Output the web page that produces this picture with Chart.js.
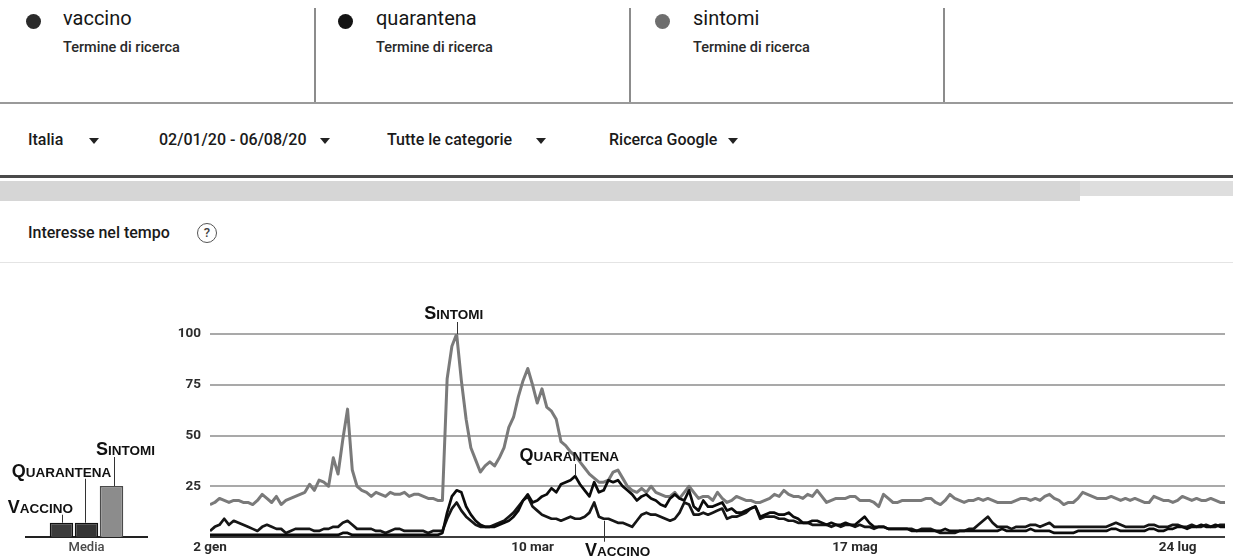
<!DOCTYPE html>
<html lang="it">
<head>
<meta charset="utf-8">
<title>Interesse nel tempo</title>
<script src="https://cdn.jsdelivr.net/npm/chart.js@4.4.1/dist/chart.umd.min.js"></script>
<style>
    html, body { margin: 0; padding: 0; background: #fff; }
    body { width: 1233px; height: 558px; overflow: hidden; position: relative; font-family: Roboto, 'Liberation Sans', sans-serif; color: #222; }
    .dot { position: absolute; top: 14px; width: 15px; height: 15px; border-radius: 50%; }
    .term { position: absolute; top: 6px; font-size: 20px; line-height: 24px; color: #161616; }
    .sub { position: absolute; top: 40px; font-size: 14.5px; line-height: 16px; font-weight: 500; color: #2a2a2a; }
    .vsep { position: absolute; top: 8px; width: 2px; height: 95px; background: #8c8c8c; }
    .filter { position: absolute; top: 130px; font-size: 16px; line-height: 20px; font-weight: 500; color: #1a1a1a; }
    .caret { position: absolute; top: 138px; width: 0; height: 0; border-left: 5px solid transparent; border-right: 5px solid transparent; border-top: 6px solid #222; }
    .title { position: absolute; left: 28px; top: 223px; font-size: 16px; line-height: 20px; font-weight: 500; color: #1a1a1a; }
    .help { position: absolute; left: 197px; top: 223px; width: 18px; height: 18px; border: 1.5px solid #555; border-radius: 50%; font-size: 13px; line-height: 18px; text-align: center; color: #444; font-weight: 500; }
    canvas { position: absolute; }
</style>
</head>
<body>
    <div class="dot" style="left:26px;background:#2b2b2b"></div>
    <div class="term" style="left:63px">vaccino</div>
    <div class="sub" style="left:63px">Termine di ricerca</div>
    <div class="vsep" style="left:314px"></div>
    <div class="dot" style="left:338px;background:#141414"></div>
    <div class="term" style="left:376px">quarantena</div>
    <div class="sub" style="left:376px">Termine di ricerca</div>
    <div class="vsep" style="left:629px"></div>
    <div class="dot" style="left:655px;background:#6e6e6e"></div>
    <div class="term" style="left:693px">sintomi</div>
    <div class="sub" style="left:693px">Termine di ricerca</div>
    <div class="vsep" style="left:943px"></div>
    <div style="position:absolute;left:0;top:102px;width:1233px;height:2px;background:#9a9a9a"></div>

    <div class="filter" style="left:28px">Italia</div>
    <div class="caret" style="left:89px"></div>
    <div class="filter" style="left:159px">02/01/20 - 06/08/20</div>
    <div class="caret" style="left:320px"></div>
    <div class="filter" style="left:387px">Tutte le categorie</div>
    <div class="caret" style="left:536px"></div>
    <div class="filter" style="left:609px">Ricerca Google</div>
    <div class="caret" style="left:728px"></div>

    <div style="position:absolute;left:0;top:175px;width:1233px;height:3px;background:#4a4a4a"></div>
    <div style="position:absolute;left:0;top:181px;width:1080px;height:20px;background:#d6d6d6"></div>
    <div style="position:absolute;left:1080px;top:181px;width:153px;height:15px;background:#dedede"></div>

    <div class="title">Interesse nel tempo</div>
    <div class="help">?</div>
    <div style="position:absolute;left:0;top:262px;width:1233px;height:1px;background:#e4e4e4"></div>

    <canvas id="media" width="160" height="123" style="left:0;top:435px"></canvas>
    <canvas id="trend" width="1073" height="268" style="left:160px;top:290px"></canvas>

<script>
const seriesNames = ['vaccino', 'quarantena', 'sintomi']
const tickDays = [0, 68, 136, 204]
const tickLabels = ['2 gen', '10 mar', '17 mag', '24 lug']
const mediaLabels = ['Media']
const mediaValues = [7, 7, 25]

// one value per day from 2 gen
const vaccino = [
    3, 5, 6, 9, 6, 8, 7, 6, 5, 4,
    3, 5, 6, 5, 4, 4, 2, 3, 4, 4,
    4, 4, 3, 3, 4, 4, 5, 5, 7, 8,
    6, 4, 4, 4, 4, 3, 3, 2, 3, 4,
    4, 3, 3, 3, 3, 3, 2, 3, 3, 3,
    9, 14, 17, 13, 10, 8, 6, 5, 5, 5,
    6, 7, 8, 10, 12, 15, 18, 20, 15, 13,
    11, 10, 9, 9, 8, 9, 10, 9, 9, 10,
    12, 17, 10, 9, 9, 8, 7, 7, 6, 5,
    8, 11, 12, 11, 11, 10, 9, 8, 9, 12,
    17, 16, 11, 11, 12, 11, 12, 13, 14, 9,
    10, 10, 11, 12, 14, 15, 9, 10, 10, 10,
    9, 9, 8, 8, 7, 7, 7, 6, 6, 6,
    6, 5, 6, 5, 6, 6, 5, 6, 5, 5,
    4, 5, 5, 4, 4, 4, 4, 4, 4, 3,
    4, 4, 4, 3, 2, 2, 2, 2, 3, 3,
    4, 4, 6, 8, 10, 7, 5, 5, 5, 4,
    5, 5, 5, 6, 6, 5, 6, 7, 5, 5,
    5, 5, 5, 5, 5, 5, 5, 5, 5, 5,
    6, 7, 6, 5, 5, 5, 5, 5, 6, 6,
    5, 5, 5, 6, 6, 5, 5, 6, 5, 5,
    6, 5, 5, 6, 6
]

const quarantena = [
    1, 1, 1, 1, 1, 1, 1, 1, 1, 1,
    1, 1, 1, 1, 1, 1, 1, 1, 1, 1,
    1, 1, 1, 1, 1, 1, 1, 1, 2, 2,
    1, 1, 1, 1, 1, 1, 1, 1, 1, 1,
    1, 1, 1, 1, 1, 1, 1, 1, 1, 2,
    12, 20, 23, 22, 15, 11, 8, 6, 5, 5,
    5, 6, 7, 8, 10, 13, 18, 21, 17, 18,
    20, 21, 24, 22, 26, 27, 28, 30, 26, 23,
    20, 27, 22, 23, 28, 27, 28, 25, 23, 21,
    18, 20, 21, 19, 18, 16, 15, 19, 21, 19,
    18, 23, 15, 13, 18, 15, 15, 16, 17, 13,
    14, 12, 12, 13, 14, 15, 10, 11, 12, 12,
    11, 11, 12, 10, 9, 7, 7, 8, 8, 7,
    6, 7, 6, 6, 7, 6, 6, 8, 10, 7,
    5, 5, 5, 4, 4, 4, 4, 4, 3, 3,
    3, 3, 3, 3, 3, 4, 3, 3, 3, 3,
    3, 3, 3, 3, 3, 3, 3, 4, 3, 3,
    3, 3, 3, 4, 3, 3, 3, 3, 2, 2,
    2, 2, 2, 3, 3, 3, 3, 3, 3, 3,
    4, 4, 3, 3, 3, 3, 3, 3, 4, 4,
    3, 3, 4, 4, 5, 5, 4, 5, 5, 6,
    5, 5, 6, 5, 5
]

const sintomi = [
    16, 17, 19, 18, 17, 18, 18, 17, 17, 16,
    18, 21, 19, 17, 20, 16, 18, 19, 20, 21,
    22, 26, 23, 28, 27, 25, 39, 31, 48, 63,
    33, 25, 23, 22, 20, 22, 21, 20, 22, 21,
    21, 22, 20, 21, 21, 20, 19, 19, 18, 18,
    78, 94, 100, 77, 58, 44, 38, 32, 35, 37,
    35, 39, 44, 54, 59, 69, 77, 83, 75, 66,
    73, 64, 62, 58, 47, 45, 42, 40, 37, 34,
    31, 29, 27, 27, 28, 32, 33, 29, 25, 23,
    22, 24, 22, 25, 22, 21, 20, 20, 22, 19,
    22, 25, 22, 19, 20, 20, 18, 22, 19, 17,
    18, 20, 19, 18, 18, 17, 17, 18, 19, 21,
    20, 23, 21, 20, 20, 19, 21, 20, 23, 20,
    17, 18, 19, 19, 19, 20, 20, 18, 18, 18,
    17, 15, 21, 19, 17, 17, 18, 18, 18, 18,
    18, 19, 19, 17, 16, 18, 21, 19, 18, 17,
    18, 18, 19, 18, 19, 18, 17, 17, 17, 17,
    18, 19, 19, 18, 19, 18, 20, 21, 19, 18,
    16, 17, 17, 19, 22, 21, 20, 19, 19, 19,
    20, 19, 18, 19, 18, 19, 18, 17, 17, 20,
    19, 18, 18, 17, 18, 20, 19, 18, 19, 18,
    18, 19, 18, 17, 17
]

const seriesValues = [vaccino, quarantena, sintomi]
const lineColors = ['#161616', '#0b0b0b', '#7a7a7a']
const barColors = ['#3c3c3c', '#353535', '#8c8c8c']

// labels pointing at a day of a series
const trendNotes = [
    { series: 2, day: 52, text: 'Sintomi', dx: -3, below: false },
    { series: 1, day: 77, text: 'Quarantena', dx: -6, below: false },
    { series: 0, day: 83, text: 'Vaccino', dx: 14, below: true }
]
const mediaNotes = [
    { series: 2, text: 'Sintomi', dx: 14, lift: 31, lineDx: 2 },
    { series: 1, text: 'Quarantena', dx: -25, lift: 46, lineDx: -2 },
    { series: 0, text: 'Vaccino', dx: -21, lift: 10, lineDx: 1 }
]

Chart.defaults.font.family = "Roboto, 'Liberation Sans', sans-serif"

function drawCaps(ctx, text, cx, baseline) {
    const big = "bold 18px 'Liberation Sans', Arial, sans-serif"
    const small = "bold 13.5px 'Liberation Sans', Arial, sans-serif"
    const first = text[0].toUpperCase()
    const rest = text.slice(1).toUpperCase()
    ctx.font = big
    const w1 = ctx.measureText(first).width
    ctx.font = small
    const w2 = ctx.measureText(rest).width
    const x = cx - (w1 + w2) / 2
    ctx.textAlign = 'left'
    ctx.textBaseline = 'alphabetic'
    ctx.fillStyle = '#111'
    ctx.font = big
    ctx.fillText(first, x, baseline)
    ctx.font = small
    ctx.fillText(rest, x + w1, baseline)
}

function leader(ctx, x, y1, y2) {
    ctx.strokeStyle = '#333'
    ctx.lineWidth = 1
    ctx.beginPath()
    ctx.moveTo(Math.round(x) + 0.5, y1)
    ctx.lineTo(Math.round(x) + 0.5, y2)
    ctx.stroke()
}

const trendNotesPlugin = {
    id: 'trendNotes',
    afterDatasetsDraw(chart) {
        const ctx = chart.ctx
        ctx.save()
        trendNotes.forEach(n => {
            const pt = chart.getDatasetMeta(n.series).data[n.day]
            if (n.below) {
                leader(ctx, pt.x, pt.y + 2, pt.y + 23)
                drawCaps(ctx, n.text, pt.x + n.dx, pt.y + 37)
            } else {
                leader(ctx, pt.x, pt.y - 12, pt.y)
                drawCaps(ctx, n.text, pt.x + n.dx, pt.y - 15)
            }
        })
        ctx.restore()
    }
}

const mediaNotesPlugin = {
    id: 'mediaNotes',
    afterDatasetsDraw(chart) {
        const ctx = chart.ctx
        ctx.save()
        mediaNotes.forEach(n => {
            const bar = chart.getDatasetMeta(n.series).data[0]
            const base = bar.y - n.lift
            leader(ctx, bar.x + n.lineDx, base + 2, bar.y)
            drawCaps(ctx, n.text, bar.x + n.dx, base)
        })
        ctx.restore()
    }
}

new Chart(document.getElementById('trend'), {
    type: 'line',
    data: {
        datasets: seriesNames.map((name, i) => ({
            label: name,
            data: seriesValues[i].map((v, d) => ({ x: d, y: v })),
            borderColor: lineColors[i],
            borderWidth: i === 2 ? 3 : 2.7,
            order: i === 2 ? 3 : 2 - i
        }))
    },
    options: {
        responsive: false,
        animation: false,
        layout: { padding: { top: 44, right: 8, left: 0, bottom: 0 } },
        elements: {
            point: { radius: 0 },
            line: { tension: 0, borderJoinStyle: 'round' }
        },
        plugins: { legend: { display: false }, tooltip: { enabled: false } },
        scales: {
            x: {
                type: 'linear',
                min: 0,
                max: sintomi.length - 1,
                grid: { display: false, drawTicks: false },
                border: { display: false },
                afterBuildTicks: scale => { scale.ticks = tickDays.map(v => ({ value: v })) },
                afterFit: scale => { scale.height = 21 },
                ticks: {
                    autoSkip: false,
                    maxRotation: 0,
                    padding: 3,
                    color: '#2a2a2a',
                    font: { size: 13.5, weight: 'bold' },
                    callback: v => tickLabels[tickDays.indexOf(v)]
                }
            },
            y: {
                min: 0,
                max: 100,
                afterFit: scale => { scale.width = 50 },
                border: { display: false },
                grid: {
                    drawTicks: false,
                    lineWidth: 2,
                    color: c => c.tick.value === 0 ? '#3c3c3c' : '#a9a9a9'
                },
                ticks: {
                    stepSize: 25,
                    padding: 9,
                    color: '#2e2e2e',
                    font: { size: 13.5, weight: 'bold' },
                    callback: v => v === 0 ? '' : v
                }
            }
        }
    },
    plugins: [trendNotesPlugin]
})

new Chart(document.getElementById('media'), {
    type: 'bar',
    data: {
        labels: mediaLabels,
        datasets: seriesNames.map((name, i) => ({
            label: name,
            data: [mediaValues[i]],
            backgroundColor: barColors[i],
            borderColor: i === 2 ? '#4a4a4a' : '#111',
            borderWidth: 1.5,
            categoryPercentage: 0.62,
            barPercentage: 0.94
        }))
    },
    options: {
        responsive: false,
        animation: false,
        layout: { padding: { left: 26, right: 13, top: 0, bottom: 0 } },
        plugins: { legend: { display: false }, tooltip: { enabled: false } },
        scales: {
            x: {
                grid: { display: false, drawTicks: false },
                border: { color: '#222', width: 2 },
                afterFit: scale => { scale.height = 21 },
                ticks: { color: '#4a4a4a', padding: 3, font: { size: 13, weight: '500' } }
            },
            y: { display: false, min: 0, max: 50 }
        }
    },
    plugins: [mediaNotesPlugin]
})
</script>
</body>
</html>
